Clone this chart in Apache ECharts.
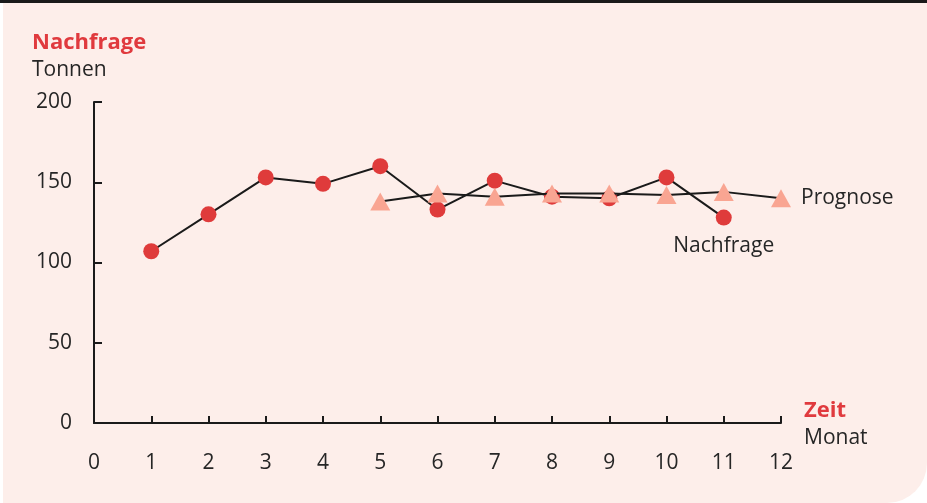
<!DOCTYPE html>
<html>
<head>
<meta charset="utf-8">
<script src="https://cdn.jsdelivr.net/npm/echarts@6/dist/echarts.min.js"></script>
<style>
  html, body { margin: 0; padding: 0; background: #ffffff; }
  #chart { width: 927px; height: 503px; }
</style>
</head>
<body>
<div id="chart"></div>
<script>
// Monthly demand (tonnes) and the forecast made for it
var months = [0, 1, 2, 3, 4, 5, 6, 7, 8, 9, 10, 11, 12];
var demandMonths = [1, 2, 3, 4, 5, 6, 7, 8, 9, 10, 11];
var demand = [107, 130, 153, 149, 160, 133, 151, 141, 140, 153, 128];
var forecastMonths = [5, 6, 7, 8, 9, 10, 11, 12];
var forecast = [138, 143, 141, 143, 143, 142, 144, 140];
var yTicks = [0, 50, 100, 150, 200];

var FONT = '"Open Sans", "Noto Sans", sans-serif';
var TEXT = '#262626';
var RED = '#e03a3e';
var FS = 21;

function pairs(xs, ys) {
  return xs.map(function (x, i) { return [x, ys[i]]; });
}

var demandData = pairs(demandMonths, demand);
demandData[demandData.length - 1] = {
  value: demandData[demandData.length - 1],
  label: {
    show: true, formatter: 'Nachfrage', position: 'bottom', distance: 10,
    color: TEXT, fontSize: FS, fontFamily: FONT
  }
};
var forecastData = pairs(forecastMonths, forecast);
forecastData[forecastData.length - 1] = {
  value: forecastData[forecastData.length - 1],
  label: {
    show: true, formatter: 'Prognose', position: 'right', distance: 10,
    color: TEXT, fontSize: FS, fontFamily: FONT
  }
};

var chart = echarts.init(document.getElementById('chart'), null, { renderer: 'canvas' });
chart.setOption({
  backgroundColor: '#ffffff',
  animation: false,
  graphic: [
    {
      type: 'rect', z: -10, silent: true,
      shape: { x: 3, y: 3, width: 924, height: 500, r: [0, 0, 40, 0] },
      style: { fill: '#fdeeea' }
    },
    {
      type: 'rect', z: -9, silent: true,
      shape: { x: 0, y: 0, width: 927, height: 3 },
      style: { fill: '#1a1a1a' }
    },
    {
      type: 'text', left: 32, top: 32,
      style: { text: 'Nachfrage', fill: RED, font: 'bold 22px ' + FONT }
    },
    {
      type: 'text', left: 32, top: 60,
      style: { text: 'Tonnen', fill: TEXT, font: FS + 'px ' + FONT }
    },
    {
      type: 'text', left: 804, top: 400,
      style: { text: 'Zeit', fill: RED, font: 'bold 22px ' + FONT }
    },
    {
      type: 'text', left: 804, top: 428,
      style: { text: 'Monat', fill: TEXT, font: FS + 'px ' + FONT }
    }
  ],
  grid: { left: 94, right: 146, top: 102, bottom: 80, containLabel: false },
  xAxis: {
    type: 'value', min: months[0], max: months[months.length - 1], interval: 1,
    splitLine: { show: false },
    axisLine: { lineStyle: { color: '#1a1a1a', width: 2 } },
    axisTick: { inside: true, length: 7, lineStyle: { color: '#1a1a1a', width: 2 } },
    axisLabel: { color: TEXT, fontSize: FS, fontFamily: FONT, margin: 30 }
  },
  yAxis: {
    type: 'value', min: yTicks[0], max: yTicks[yTicks.length - 1], interval: 50,
    splitLine: { show: false },
    axisLine: { show: true, lineStyle: { color: '#1a1a1a', width: 2 } },
    axisTick: { show: true, inside: true, length: 8, lineStyle: { color: '#1a1a1a', width: 2 } },
    axisLabel: { color: TEXT, fontSize: FS, fontFamily: FONT, margin: 22 }
  },
  series: [
    {
      name: 'Prognose', type: 'line', data: forecastData,
      symbol: 'triangle', symbolSize: [20, 18],
      lineStyle: { color: '#1a1a1a', width: 2 },
      itemStyle: { color: '#f9a592' },
      z: 3
    },
    {
      name: 'Nachfrage', type: 'line', data: demandData,
      symbol: 'circle', symbolSize: 16,
      lineStyle: { color: '#1a1a1a', width: 2 },
      itemStyle: { color: '#df3b3b' },
      z: 2
    }
  ]
});
</script>
</body>
</html>
